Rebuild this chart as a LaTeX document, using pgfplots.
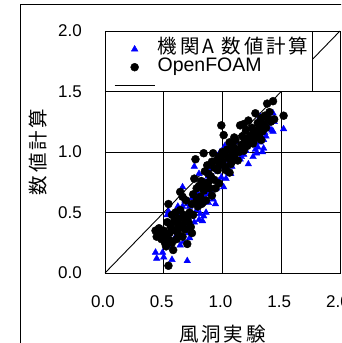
\documentclass[border=0pt]{standalone}
\usepackage{pgfplots}
\pgfplotsset{compat=1.18}
\usepackage{fontspec}
\setmainfont{Liberation Sans}
\newfontfamily\cjk[LetterSpace=15]{Noto Sans CJK JP}
\pgfplotsset{
  markleg/.style={legend image code/.code={\path (0pt,0pt) (40pt,0pt); \draw[##1] plot coordinates {(20pt,0pt)};}},
  lineleg/.style={legend image code/.code={\draw[##1] (0pt,0pt) -- (40pt,0pt);}},
}
\begin{document}
\begin{tikzpicture}
\useasboundingbox (0pt,0pt) rectangle (341pt,343pt);
\clip (0pt,0pt) rectangle (341pt,343pt);
\fill[white] (0pt,0pt) rectangle (341pt,343pt);
\draw[line width=1pt] (20pt,-20pt) rectangle (380pt,338pt);
\begin{axis}[
  at={(105pt,70pt)}, anchor=south west,
  scale only axis, width=235pt, height=242pt,
  xmin=0, xmax=2, ymin=0, ymax=2,
  xtick={0,0.5,1,1.5,2}, ytick={0,0.5,1,1.5,2},
  xticklabels={0.0,0.5,1.0,1.5,2.0},
  yticklabels={0.0,0.5,1.0,1.5,2.0},
  major tick length=0pt,
  grid=major,
  major grid style={black, line width=0.8pt},
  axis line style={black, line width=0.9pt},
  /pgf/number format/assume math mode=true,
  tick label style={font=\fontsize{17}{17}\selectfont},
  yticklabel style={anchor=east, inner sep=0pt, xshift=-23pt},
  xticklabel style={anchor=center, inner sep=0pt, yshift=-29pt, xshift=-2pt},
  xlabel={\cjk 風洞実験},
  ylabel={\cjk 数値計算},
  every axis x label/.style={at={(axis cs:1,0)}, anchor=center, yshift=-61pt, font=\fontsize{19.5}{19.5}\selectfont},
  every axis y label/.style={at={(axis cs:0,1)}, anchor=center, xshift=-67pt, rotate=90, font=\fontsize{19.5}{19.5}\selectfont},
  legend style={at={(0,1)}, anchor=north west, draw=none, fill=none, xshift=4pt, yshift=-6pt,
    inner xsep=5pt, inner ysep=3pt, row sep=0pt,
    font=\fontsize{19.5}{19.5}\selectfont,
    nodes={inner xsep=2.5pt, inner ysep=1pt, text height=12.5pt, text depth=3.5pt}},
  legend cell align=left,
]
\addplot[only marks, mark=triangle*, mark size=3.8pt, color=blue, markleg]
coordinates {
(0.43,0.17)(0.44,0.12)(0.49,0.17)(0.50,0.13)(0.57,0.11)(0.70,0.10)(0.55,0.22)(0.60,0.30)
(0.64,0.23)(0.67,0.26)(0.72,0.29)(0.71,0.33)(0.53,0.48)(0.54,0.51)(0.57,0.38)(0.60,0.45)
(0.63,0.47)(0.66,0.55)(0.66,0.71)(0.68,0.60)(0.70,0.57)(0.72,0.55)(0.74,0.47)(0.76,0.42)
(0.78,0.52)(0.80,0.44)(0.81,0.49)(0.83,0.43)(0.84,0.47)(0.86,0.50)(0.88,0.58)(0.87,0.65)
(0.85,0.75)(0.76,0.88)(0.80,0.82)(0.82,0.70)(0.90,0.86)(0.92,0.61)(0.94,0.57)(0.95,0.70)
(0.97,0.76)(0.99,0.79)(1.01,0.71)(1.03,0.78)(1.05,0.83)(1.07,0.82)(1.06,0.93)(1.08,0.88)
(1.09,1.10)(1.10,0.96)(1.12,1.00)(1.14,1.03)(1.16,0.96)(1.18,0.98)(1.20,1.01)(1.22,0.90)
(1.24,1.06)(1.26,0.96)(1.28,1.02)(1.29,0.99)(1.30,1.04)(1.32,1.08)(1.33,1.13)(1.35,1.03)
(1.35,1.10)(1.36,1.16)(1.38,1.21)(1.38,1.26)(1.40,1.19)(1.42,1.18)(1.43,1.17)(1.44,1.25)
(1.43,1.32)(1.32,1.29)(1.52,1.19)(1.30,1.15)(1.25,1.12)(1.12,1.08)(1.02,1.05)(0.98,1.00)
(0.93,0.92)(0.88,0.80)(0.79,0.66)(0.74,0.62)(0.62,0.55)(0.58,0.43)(0.69,0.37)(0.90,0.68)
(0.96,0.84)(1.15,0.94)(1.19,1.07)(1.34,1.00)(1.27,1.09)(1.40,1.28)(1.05,0.98)(0.84,0.62)
(1.00,0.88)(1.21,1.05)(1.37,1.13)(0.77,0.58)
};
\addlegendentry{\cjk 機関A 数値計算}
\addplot[only marks, mark=*, mark size=4pt, color=black, markleg]
coordinates {
(0.43,0.35)(0.44,0.30)(0.46,0.37)(0.47,0.32)(0.48,0.28)(0.50,0.35)(0.51,0.25)(0.52,0.30)
(0.53,0.42)(0.54,0.06)(0.54,0.57)(0.55,0.33)(0.56,0.38)(0.57,0.25)(0.58,0.19)(0.59,0.43)
(0.60,0.35)(0.61,0.28)(0.62,0.40)(0.63,0.45)(0.64,0.52)(0.64,0.67)(0.65,0.38)(0.66,0.63)
(0.67,0.48)(0.68,0.36)(0.69,0.60)(0.70,0.24)(0.71,0.42)(0.72,0.50)(0.73,0.38)(0.74,0.57)
(0.75,0.65)(0.76,0.78)(0.77,0.94)(0.78,0.60)(0.79,0.55)(0.80,0.72)(0.81,0.63)(0.82,0.76)
(0.83,0.58)(0.84,0.99)(0.84,0.68)(0.85,0.84)(0.86,0.60)(0.87,0.89)(0.88,0.75)(0.89,0.70)
(0.90,0.80)(0.91,0.64)(0.92,0.99)(0.93,0.77)(0.94,0.70)(0.95,0.93)(0.96,0.85)(0.97,0.96)
(0.98,0.90)(0.99,1.22)(1.00,0.92)(1.01,1.14)(1.02,0.98)(1.03,0.85)(1.04,1.02)(1.05,0.95)
(1.06,1.08)(1.07,0.90)(1.08,1.00)(1.09,1.05)(1.10,0.97)(1.11,1.10)(1.12,1.02)(1.13,0.93)
(1.15,1.22)(1.16,1.06)(1.17,1.13)(1.18,1.01)(1.19,1.10)(1.20,1.18)(1.21,1.05)(1.22,1.26)
(1.23,1.13)(1.24,1.08)(1.25,1.20)(1.26,1.15)(1.27,1.10)(1.28,1.32)(1.29,1.18)(1.30,1.24)
(1.31,1.13)(1.32,1.21)(1.33,1.28)(1.34,1.17)(1.35,1.23)(1.36,1.30)(1.37,1.20)(1.38,1.40)
(1.39,1.27)(1.40,1.33)(1.41,1.25)(1.43,1.42)(1.44,1.27)(1.52,1.30)(0.66,0.30)(0.74,0.33)
(0.75,0.48)(0.60,0.50)(0.57,0.48)(0.70,0.45)(0.78,0.70)(0.82,0.57)(0.88,0.82)(0.93,0.87)
(0.97,0.74)(1.02,0.88)(1.06,0.83)(1.10,1.12)(1.14,1.00)(1.18,1.23)(1.26,1.07)(1.33,1.10)
(0.52,0.22)(0.55,0.27)(0.62,0.33)(0.68,0.42)(0.86,0.72)(0.91,0.92)(1.00,1.00)(1.08,0.92)
};
\addlegendentry{OpenFOAM}
\addplot[black, line width=0.9pt, no marks, lineleg]
coordinates {(0,0) (2,2)};
\addlegendentry{}
\draw[black, line width=0.8pt, fill=white] (rel axis cs:0,1) rectangle (axis cs:1.762,1.5);
\end{axis}
\end{tikzpicture}
\end{document}
